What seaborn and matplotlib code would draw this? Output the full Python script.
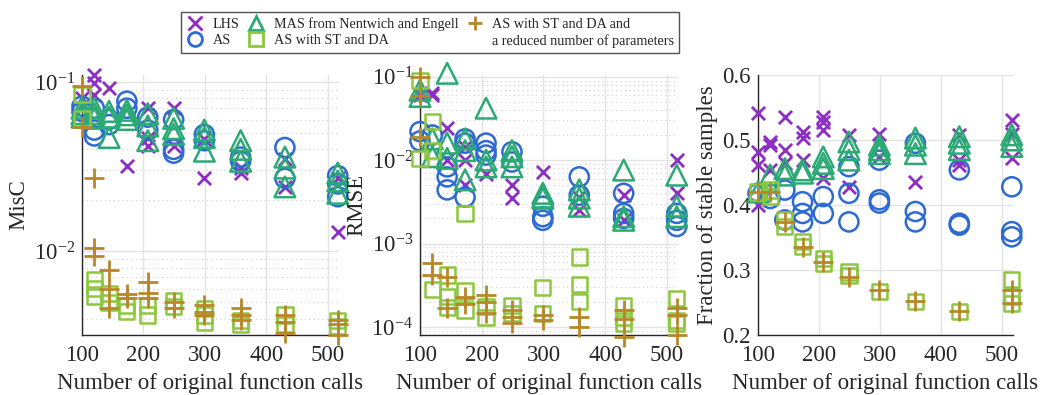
import numpy as np
import pandas as pd
import seaborn as sns
import matplotlib
matplotlib.use("Agg")
import matplotlib.pyplot as plt
from matplotlib.lines import Line2D
from matplotlib.ticker import LogLocator, FixedLocator, NullFormatter, FuncFormatter

# ---------------- data ----------------
calls = [100, 120, 144, 173, 207, 249, 299, 358, 430, 516]

methods = ["LHS", "AS", "MAS from Nentwich and Engell", "AS with ST and DA",
           "AS with ST and DA and"]

# MisC
misc_lhs = [[0.08], [0.11, 0.098, 0.084], [0.092], [0.032], [0.07, 0.047, 0.042],
            [0.07, 0.042], [0.027, 0.046], [0.031, 0.029], [0.035, 0.024], [0.013, 0.027]]
misc_as = [[0.072, 0.067], [0.048, 0.052, 0.07], [0.06, 0.056], [0.077, 0.07], [0.062, 0.052],
           [0.06, 0.04, 0.038], [0.049, 0.045], [0.036, 0.034], [0.041, 0.027], [0.028, 0.025, 0.021]]
misc_mas = [[0.07, 0.065, 0.062], [0.07, 0.065, 0.061], [0.067, 0.062, 0.047], [0.068, 0.064, 0.06],
            [0.065, 0.055, 0.045], [0.061, 0.053, 0.049], [0.052, 0.047, 0.039], [0.045, 0.04, 0.034],
            [0.036, 0.031, 0.024], [0.029, 0.026, 0.022]]
misc_stda = [[0.084, 0.061], [0.0068, 0.006, 0.0054], [0.0056, 0.005], [0.0048, 0.0044],
             [0.0048, 0.0042], [0.0051, 0.0047], [0.0046, 0.0042, 0.0038], [0.0039, 0.0037],
             [0.0042, 0.0037], [0.0039, 0.0036]]
misc_red = [[0.095, 0.054], [0.027, 0.0105, 0.0094], [0.0078, 0.006, 0.0046], [0.0056, 0.0053],
            [0.0066, 0.0057, 0.0053], [0.005, 0.0046], [0.0048, 0.0044, 0.0042],
            [0.0046, 0.0042, 0.0039], [0.0042, 0.0038, 0.0033], [0.0039, 0.0037, 0.0032]]

# RMSE
rmse_lhs = [[0.06], [0.063, 0.06], [0.024, 0.01], [0.0145, 0.01, 0.005], [0.0069],
            [0.005, 0.0035], [0.0072], [0.0036, 0.0025], [0.0038, 0.0019], [0.01, 0.004]]
rmse_as = [[0.022, 0.017], [0.02], [0.0083, 0.0063, 0.0044], [0.018, 0.016, 0.0036],
           [0.016, 0.013, 0.0115], [0.0126, 0.0095], [0.0028, 0.0021, 0.0019], [0.0063, 0.0038],
           [0.004, 0.0023, 0.002], [0.0023, 0.0019, 0.0016]]
rmse_mas = [[0.069, 0.058], [0.018, 0.011], [0.11, 0.016, 0.0105], [0.018, 0.013, 0.0058],
            [0.042, 0.01, 0.0083], [0.013, 0.011, 0.0083], [0.004, 0.0036, 0.0035],
            [0.0044, 0.0035, 0.0028], [0.0076, 0.0021, 0.0019], [0.0066, 0.0028, 0.0021]]
rmse_stda = [[0.091, 0.0105], [0.029, 0.013, 2.8e-4], [4.2e-4, 2.3e-4, 1.7e-4], [0.0023, 2.7e-4, 1.6e-4],
             [1.75e-4, 1.3e-4], [1.8e-4, 1.45e-4], [3e-4, 1.45e-4], [6.9e-4, 3.2e-4, 2e-4],
             [1.8e-4, 1.3e-4, 1.1e-4], [2.2e-4, 1.2e-4, 1.1e-4]]
rmse_red = [[0.1, 0.058, 0.019], [5.8e-4, 4.2e-4], [4e-4, 1.7e-4], [2.3e-4, 1.9e-4],
            [2.4e-4, 2e-4, 1.45e-4], [1.6e-4, 1.33e-4, 1.1e-4], [1.4e-4, 1.2e-4], [1.3e-4, 1e-4],
            [1.6e-4, 1.26e-4, 7.6e-5], [1.7e-4, 1.4e-4, 7.9e-5]]

# Fraction of stable samples
frac_lhs = [[0.541, 0.482, 0.462, 0.4], [0.497, 0.492, 0.454], [0.536, 0.485, 0.464],
            [0.513, 0.503, 0.469], [0.536, 0.528, 0.515, 0.441], [0.508, 0.428], [0.51, 0.474],
            [0.436], [0.508, 0.469, 0.462], [0.531, 0.51, 0.472]]
frac_as = [[0.418], [0.41], [0.423, 0.377], [0.405, 0.387, 0.374], [0.413, 0.387],
           [0.459, 0.418, 0.374], [0.469, 0.408, 0.403], [0.495, 0.39, 0.374],
           [0.454, 0.372, 0.369], [0.428, 0.359, 0.351]]
frac_mas = [[0.42], [0.446], [0.456, 0.446], [0.454, 0.449], [0.474, 0.464, 0.456],
            [0.497, 0.485, 0.469], [0.492, 0.485, 0.479], [0.503, 0.492, 0.479],
            [0.505, 0.495, 0.485], [0.508, 0.5, 0.49]]
frac_stda = [[0.42], [0.423, 0.413], [0.377, 0.367], [0.344, 0.336], [0.318, 0.31],
             [0.297, 0.292], [0.267], [0.251], [0.236], [0.285, 0.259, 0.249]]
frac_red = [[0.42], [0.42], [0.374], [0.336], [0.313], [0.29], [0.269], [0.252], [0.237],
            [0.269, 0.249]]

ylabels = ["MisC", "RMSE", "Fraction of stable samples"]
xlabel = "Number of original function calls"

colors = ["#8E2EC2", "#2D6AD2", "#2CAA76", "#8DC63F", "#B8872A"]
markers = ["x", "o", "^", "s", "+"]
sizes = [90, 190, 220, 120, 200]


def to_long(series_list):
    rows = []
    for m, series in zip(methods, series_list):
        for c, vals in zip(calls, series):
            for v in vals:
                rows.append({"calls": c, "value": v, "method": m})
    return pd.DataFrame(rows)


panels = [to_long([misc_lhs, misc_as, misc_mas, misc_stda, misc_red]),
          to_long([rmse_lhs, rmse_as, rmse_mas, rmse_stda, rmse_red]),
          to_long([frac_lhs, frac_as, frac_mas, frac_stda, frac_red])]

# ---------------- style ----------------
sns.set_theme(style="white")
plt.rcParams["font.family"] = ["Liberation Serif", "DejaVu Serif"]
plt.rcParams["mathtext.fontset"] = "custom"
plt.rcParams["mathtext.rm"] = "Liberation Serif"
plt.rcParams["mathtext.it"] = "Liberation Serif:italic"
plt.rcParams["mathtext.bf"] = "Liberation Serif:bold"

fig = plt.figure(figsize=(10.45, 3.95), dpi=100)
H = 395.0
W = 1045.0
boxes = [(82, 339), (420, 678), (758, 1013)]
top, bot = 75, 335
axes = [fig.add_axes([l / W, (H - bot) / H, (r - l) / W, (bot - top) / H]) for l, r in boxes]

ylims = [(3.2e-3, 0.11), (8e-5, 0.105), (0.2, 0.6)]


def pow_fmt(v, pos):
    e = int(round(np.log10(v)))
    return r"$\mathregular{10^{%d}}$" % e


for i, (ax, df) in enumerate(zip(axes, panels)):
    for m, c, mk, s in zip(methods, colors, markers, sizes):
        sub = df[df["method"] == m]
        n0 = len(ax.collections)
        if mk in ("x", "+"):
            sns.scatterplot(data=sub, x="calls", y="value", ax=ax, marker=mk, s=s,
                            color=c, linewidth=2.0, legend=False, clip_on=False, zorder=3)
        else:
            sns.scatterplot(data=sub, x="calls", y="value", ax=ax, marker=mk, s=s,
                            color=c, linewidth=1.8, legend=False, clip_on=False, zorder=3)
            coll = ax.collections[n0]
            coll.set_facecolor("none")
            coll.set_edgecolor(c)
    ax.set_xlim(100, 518)
    ax.set_ylim(*ylims[i])
    ax.xaxis.set_major_locator(FixedLocator([100, 200, 300, 400, 500]))
    if i < 2:
        ax.set_yscale("log")
        ax.set_ylim(*ylims[i])
        ax.yaxis.set_major_locator(LogLocator(base=10, numticks=10))
        ax.yaxis.set_major_formatter(FuncFormatter(pow_fmt))
        ax.yaxis.set_minor_locator(LogLocator(base=10, subs=np.arange(2, 10), numticks=20))
        ax.yaxis.set_minor_formatter(NullFormatter())
        ax.grid(True, which="minor", axis="y", color="#d0d0d0", linestyle=(0, (1, 3)), linewidth=0.8)
    else:
        ax.yaxis.set_major_locator(FixedLocator([0.2, 0.3, 0.4, 0.5, 0.6]))
    ax.grid(True, which="major", color="#e3e3e3", linewidth=1.0)
    ax.set_axisbelow(True)
    for sp in ("top", "right"):
        ax.spines[sp].set_visible(False)
    for sp in ("left", "bottom"):
        ax.spines[sp].set_color("#262626")
        ax.spines[sp].set_linewidth(1.0)
    ax.tick_params(axis="both", which="major", labelsize=16.5, direction="in", length=3,
                   color="#262626")
    ax.tick_params(axis="x", which="major", pad=7)
    ax.tick_params(axis="y", which="major", pad=5)
    ax.tick_params(axis="y", which="minor", direction="in", length=1.5)
    ax.set_xlabel(xlabel, fontsize=16.5, labelpad=5)
    ax.set_ylabel(ylabels[i], fontsize=16.5, labelpad=3)

# ---------------- legend ----------------
handles = []
for c, mk in zip(colors, markers):
    handles.append(Line2D([], [], linestyle="none", marker=mk, markersize=10,
                          markerfacecolor="none", markeredgecolor=c, markeredgewidth=2.0))
blank = Line2D([], [], linestyle="none", marker=None)
labels = ["LHS", "AS", "MAS from Nentwich and Engell", "AS with ST and DA",
          "AS with ST and DA and", "a reduced number of parameters"]
order_h = [handles[0], handles[1], handles[2], handles[3], handles[4], blank]
leg = fig.legend(order_h, labels, ncol=3, loc="upper left",
                 bbox_to_anchor=(181 / W, 1 - 12 / H), fontsize=10.2, borderaxespad=0,
                 frameon=True, fancybox=False, edgecolor="#262626",
                 handlelength=1.3, handletextpad=0.6, columnspacing=0.5,
                 labelspacing=0.25, borderpad=0.35)
leg.get_frame().set_linewidth(1.0)

fig.savefig("out.png", dpi=100)
